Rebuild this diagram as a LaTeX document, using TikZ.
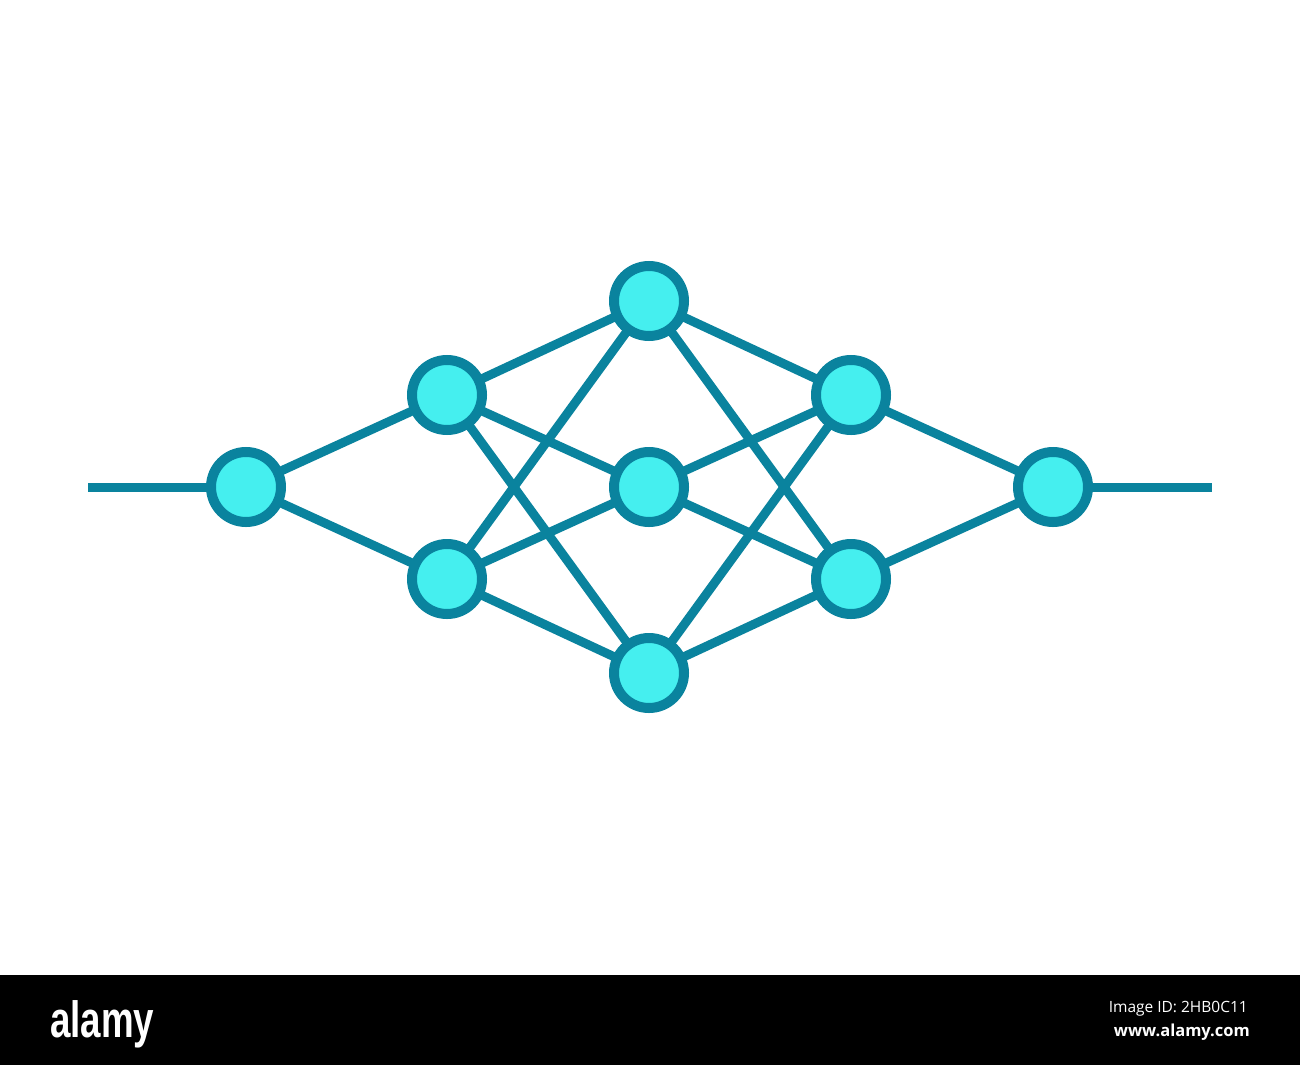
\documentclass[tikz,border=0pt]{standalone}
\usepackage{fontspec}
\usetikzlibrary{backgrounds}
\setmainfont{Open Sans}
\newfontfamily\alamyfont[FakeStretch=0.72]{Liberation Sans}
\definecolor{ringc}{HTML}{0A839E}
\definecolor{fillc}{HTML}{45EFEF}
\begin{document}
\begin{tikzpicture}[x=1pt,y=-1pt,
  neuron/.style={circle,draw=ringc,fill=fillc,line width=10pt,minimum size=70pt,inner sep=0pt},
  link/.style={draw=ringc,line width=9pt}]
\useasboundingbox (0,0) rectangle (1300,1065);
% nodes
\node[neuron] (a) at (246,487) {};
\node[neuron] (b1) at (447,395) {};
\node[neuron] (b2) at (447,579) {};
\node[neuron] (c1) at (649,301) {};
\node[neuron] (c2) at (649,487) {};
\node[neuron] (c3) at (649,673) {};
\node[neuron] (d1) at (851,395) {};
\node[neuron] (d2) at (851,579) {};
\node[neuron] (e) at (1053,487) {};
\coordinate (in) at (88,487);
\coordinate (out) at (1212,487);
% footer
\node[anchor=base west,inner sep=0pt,text=white,font=\alamyfont\bfseries\fontsize{51}{51}\selectfont] (logo) at (50,1037) {alamy};
\node[anchor=base east,inner sep=0pt,text=white,font=\fontsize{15.5}{16}\selectfont] (imgid) at (1248,1012) {Image ID: 2HB0C11};
\node[anchor=base east,inner sep=0pt,text=white,font=\bfseries\fontsize{16.5}{17}\selectfont] (url) at (1250,1036) {www.alamy.com};
\begin{pgfonlayer}{background}
\fill[white] (0,0) rectangle (1300,1065);
\fill[black] (0,975) rectangle (1300,1065);
\path[link] (in) -- (a.center);
\path[link] (e.center) -- (out);
\foreach \s/\t in {a/b1,a/b2,b1/c1,b1/c2,b1/c3,b2/c1,b2/c2,b2/c3,c1/d1,c1/d2,c2/d1,c2/d2,c3/d1,c3/d2,d1/e,d2/e}{
  \path[link] (\s.center) -- (\t.center);
}
\end{pgfonlayer}
\end{tikzpicture}
\end{document}
